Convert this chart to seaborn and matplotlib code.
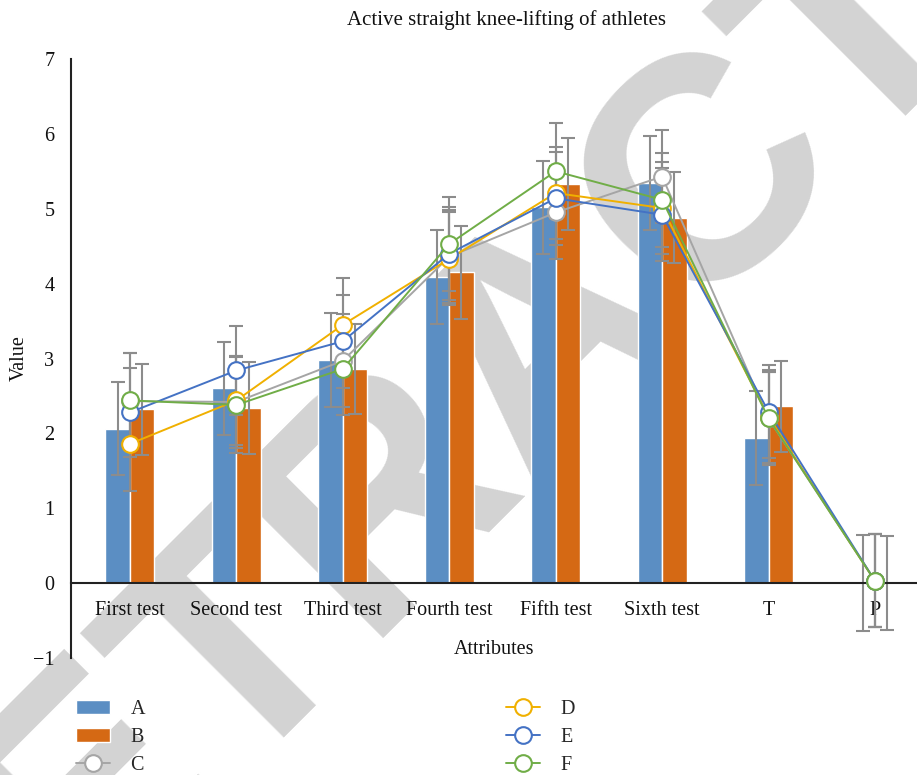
import numpy as np
import pandas as pd
import matplotlib
matplotlib.use("Agg")
import matplotlib.pyplot as plt
from matplotlib.lines import Line2D
from matplotlib.patches import Patch
import seaborn as sns

# ---- data -------------------------------------------------------------
categories = ["First test", "Second test", "Third test", "Fourth test",
              "Fifth test", "Sixth test", "T", "P"]

bar_a = [2.06, 2.60, 2.98, 4.09, 5.02, 5.34, 1.94, 0.0]
bar_b = [2.32, 2.34, 2.86, 4.15, 5.33, 4.88, 2.36, 0.0]
err_a = [0.62, 0.62, 0.63, 0.63, 0.62, 0.63, 0.63, 0.64]
err_b = [0.61, 0.61, 0.60, 0.62, 0.61, 0.61, 0.61, 0.63]

line_c = [2.43, 2.42, 2.97, 4.36, 4.95, 5.43, 2.20, 0.03]
line_d = [1.86, 2.44, 3.45, 4.33, 5.21, 5.01, 2.22, 0.03]
line_e = [2.28, 2.84, 3.23, 4.40, 5.14, 4.92, 2.29, 0.03]
line_f = [2.44, 2.38, 2.86, 4.53, 5.50, 5.12, 2.20, 0.03]
err_c = [0.64, 0.62, 0.62, 0.62, 0.62, 0.62, 0.62, 0.62]
err_d = [0.63, 0.60, 0.62, 0.62, 0.62, 0.62, 0.62, 0.62]
err_e = [0.59, 0.60, 0.62, 0.62, 0.62, 0.62, 0.62, 0.62]
err_f = [0.64, 0.64, 0.62, 0.63, 0.64, 0.63, 0.62, 0.62]

series_labels = ["A", "B", "C", "D", "E", "F"]
colors = {"A": "#5b8ec3", "B": "#d56914", "C": "#a5a5a5",
          "D": "#f0b000", "E": "#4472c4", "F": "#70ad47"}
err_color = "#8c8c8c"

# ---- style ------------------------------------------------------------
sns.set_theme(style="white")
plt.rcParams["font.family"] = ["Liberation Serif", "DejaVu Serif"]
plt.rcParams["axes.unicode_minus"] = True

fig = plt.figure(figsize=(9.17, 7.75), dpi=100)
fig.patch.set_facecolor("white")
ax = fig.add_axes([71 / 917, 1 - 658 / 775, 1 - 71 / 917, (658 - 59) / 775])
ax.set_facecolor("none")

# watermark lettering behind the plot
fig.text(0.598, 0.566, "RETRACTED", rotation=45, rotation_mode="anchor",
         ha="center", va="center", fontsize=228, fontweight="bold",
         family="Liberation Sans", color="#d3d3d3", zorder=-5)

# ---- bars -------------------------------------------------------------
bars_df = pd.DataFrame({
    "Attributes": categories * 2,
    "Value": bar_a + bar_b,
    "Series": ["A"] * len(categories) + ["B"] * len(categories),
})
sns.barplot(data=bars_df, x="Attributes", y="Value", hue="Series",
            palette=[colors["A"], colors["B"]], width=0.46, errorbar=None,
            saturation=1, ax=ax, legend=False, zorder=1)

x = np.arange(len(categories))
off = 0.115
ax.errorbar(x - off, bar_a, yerr=err_a, fmt="none", ecolor=err_color,
            elinewidth=1.5, capsize=5, capthick=1.5, zorder=2)
ax.errorbar(x + off, bar_b, yerr=err_b, fmt="none", ecolor=err_color,
            elinewidth=1.5, capsize=5, capthick=1.5, zorder=2)

# ---- lines ------------------------------------------------------------
lines = [("C", line_c, err_c), ("D", line_d, err_d),
         ("E", line_e, err_e), ("F", line_f, err_f)]
for name, vals, errs in lines:
    ax.errorbar(x, vals, yerr=errs, fmt="none", ecolor=err_color,
                elinewidth=1.5, capsize=5, capthick=1.5, zorder=3)
for name, vals, errs in lines:
    ax.plot(x, vals, color=colors[name], lw=1.4, marker="o", markersize=12,
            markerfacecolor="white", markeredgecolor=colors[name],
            markeredgewidth=1.5, zorder=4)

# ---- axes -------------------------------------------------------------
ax.set_xlim(-0.554, 7.395)
ax.set_ylim(-1, 7)
ax.set_yticks(range(-1, 8))
ax.set_yticklabels(["\u22121"] + [str(i) for i in range(0, 8)])
ax.set_xticks(x)
ax.set_xticklabels(categories)

for side in ["top", "right"]:
    ax.spines[side].set_visible(False)
ax.spines["bottom"].set_position(("data", 0))
for side in ["left", "bottom"]:
    ax.spines[side].set_color("#222222")
    ax.spines[side].set_linewidth(1.5)

ax.tick_params(axis="both", which="major", direction="out", length=7,
               width=1.5, color="#222222", labelsize=14.5, labelcolor="#111111")
ax.tick_params(axis="x", pad=6)
ax.tick_params(axis="y", pad=5)

ax.set_xlabel("Attributes", fontsize=14.5, color="#111111", labelpad=14)
ax.set_ylabel("Value", fontsize=14.5, color="#111111", labelpad=3)
ax.set_title("Active straight knee-lifting of athletes", fontsize=15,
             color="#111111", pad=24.5, x=0.515)

# ---- legend -----------------------------------------------------------
def line_handle(name):
    return Line2D([], [], color=colors[name], lw=1.4, marker="o",
                  markersize=12, markerfacecolor="white",
                  markeredgecolor=colors[name], markeredgewidth=1.5)

left_handles = [Patch(facecolor=colors["A"]), Patch(facecolor=colors["B"]),
                line_handle("C")]
right_handles = [line_handle("D"), line_handle("E"), line_handle("F")]

leg_kw = dict(frameon=False, fontsize=14.5, handlelength=1.7,
              handletextpad=1.0, labelspacing=0.44, borderaxespad=0,
              borderpad=0, loc="upper left")
leg1 = fig.legend(left_handles, ["A", "B", "C"],
                  bbox_to_anchor=(76 / 917, 1 - 700 / 775), **leg_kw)
leg2 = fig.legend(right_handles, ["D", "E", "F"],
                  bbox_to_anchor=(506 / 917, 1 - 700 / 775), **leg_kw)

fig.savefig("out.png", dpi=100)
